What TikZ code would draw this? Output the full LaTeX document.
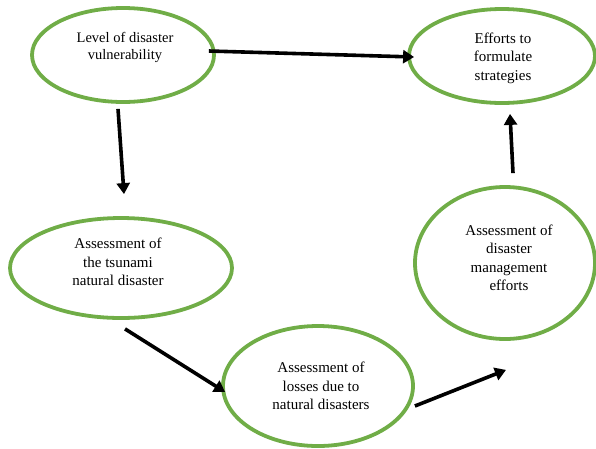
\documentclass[tikz,border=0pt]{standalone}
\usepackage{fontspec}
\setmainfont{Liberation Serif}
\usetikzlibrary{shapes.geometric,arrows.meta,calc}
\definecolor{leafgreen}{RGB}{112,173,71}

\begin{document}
\begin{tikzpicture}[x = 1pt, y = -1pt,
    stage/.style = {ellipse, draw = leafgreen, line width = 3.8pt, inner sep = 0pt},
    txt/.style = {align = center, inner sep = 0pt, font = \fontsize{15}{18.5}\selectfont},
    flow/.style = {line width = 3.6pt, -{Triangle[length = 11pt, width = 13pt]}}]
    \useasboundingbox (0,0) rectangle (596,448);
    % stages
    \node[stage, minimum width = 182pt, minimum height = 94pt] (LVL) at (123,55) {};
    \node[stage, minimum width = 186pt, minimum height = 94pt] (EFF) at (502,56) {};
    \node[stage, minimum width = 222pt, minimum height = 100pt] (TSU) at (121,268) {};
    \node[stage, minimum width = 190pt, minimum height = 120pt] (LOS) at (318,386) {};
    \node[stage, minimum width = 180pt, minimum height = 152pt] (MGT) at (505,263) {};
    \node[txt, font = \fontsize{14.5}{17}\selectfont] (LVLt) at ($(LVL)+(2,-8)$) {Level of disaster\\vulnerability};
    \node[txt] (EFFt) at ($(EFF)+(1,2)$) {Efforts to\\formulate\\strategies};
    \node[txt] (TSUt) at ($(TSU)+(-3,-6)$) {Assessment of\\the tsunami\\natural disaster};
    \node[txt] (LOSt) at ($(LOS)+(3,0)$) {Assessment of\\losses due to\\natural disasters};
    \node[txt] (MGTt) at ($(MGT)+(4,-5)$) {Assessment of\\disaster\\management\\efforts};
    % arrows
    \draw[flow] ($(LVL.east)+(-7,-4)$) -- ($(EFF.west)+(7,1)$);
    \draw[flow] ($(LVL.south)+(-5,5)$) -- ($(TSU.north)+(3,-22)$);
    \draw[flow] ($(TSU.south)+(4,9)$) -- ($(LOS.west)+(4,6)$);
    \draw[flow] ($(LOS.east)+(0,20)$) -- ($(MGT.south)+(1,29)$);
    \draw[flow] ($(MGT.north)+(8,-12)$) -- ($(EFF.south)+(8,9)$);
\end{tikzpicture}
\end{document}
